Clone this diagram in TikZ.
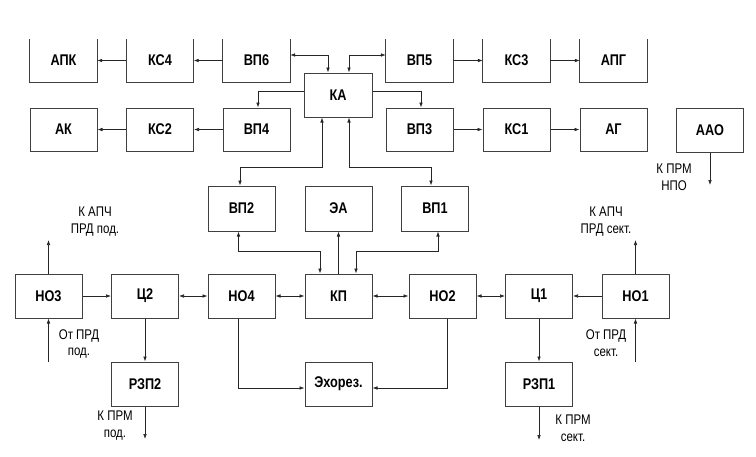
\documentclass[tikz,border=0pt]{standalone}
\usepackage{fontspec}
\setmainfont[FakeStretch=0.82]{Liberation Sans}
\usetikzlibrary{arrows.meta}
\tikzset{
  blk/.style={draw=black!75, line width=1pt, minimum width=67pt, minimum height=44pt, inner sep=0pt, font=\bfseries\fontsize{15.5}{17}\selectfont},
  openblk/.style={draw=none, minimum width=67pt, minimum height=43pt, inner sep=0pt, font=\bfseries\fontsize{15.5}{17}\selectfont},
  side/.style={draw=black!75, line width=1pt},
  conn/.style={draw=black!85, line width=0.6pt},
  arr/.style={conn, -{Latex[length=5pt,width=3.6pt]}},
  dbl/.style={conn, {Latex[length=5pt,width=3.6pt]}-{Latex[length=5pt,width=3.6pt]}},
  lbl/.style={align=center, inner sep=0pt, font=\fontsize{14}{17}\selectfont}
}
\begin{document}
\begin{tikzpicture}[x=1pt,y=-1pt]
\useasboundingbox (0,0) rectangle (756,456);
% top row (open top)
\node[openblk] (apk) at (63.5,60.5) {АПК};
\node[openblk] (ks4) at (160,60.5) {КС4};
\node[openblk] (vp6) at (256.5,60.5) {ВП6};
\node[openblk] (vp5) at (419.5,60.5) {ВП5};
\node[openblk] (ks3) at (516.5,60.5) {КС3};
\node[openblk] (apg) at (613.5,60.5) {АПГ};
\foreach \n in {apk,ks4,vp6,vp5,ks3,apg}
  \draw[side] (\n.north west) -- (\n.south west) -- (\n.south east) -- (\n.north east);
% KA
\node[blk, minimum width=68pt] (ka) at (338,95) {КА};
% second row
\node[blk, minimum height=43pt] (ak) at (63.5,129.5) {АК};
\node[blk, minimum height=43pt] (ks2) at (160,129.5) {КС2};
\node[blk, minimum height=43pt] (vp4) at (256.5,129.5) {ВП4};
\node[blk, minimum height=43pt] (vp3) at (419.5,129.5) {ВП3};
\node[blk, minimum height=43pt] (ks1) at (516.5,129.5) {КС1};
\node[blk, minimum height=43pt] (ag) at (613.5,129.5) {АГ};
\node[blk] (aao) at (710,130) {ААО};
% third row
\node[blk, minimum height=45pt] (vp2) at (241.5,208.5) {ВП2};
\node[blk, minimum height=45pt] (ea) at (338.5,208.5) {ЭА};
\node[blk, minimum height=45pt] (vp1) at (435,208.5) {ВП1};
% middle row
\node[blk] (no3) at (48.5,296) {НО3};
\node[blk] (c2) at (145,296) {Ц2};
\node[blk] (no4) at (241.5,296) {НО4};
\node[blk] (kp) at (338.5,296) {КП};
\node[blk] (no2) at (442.5,296) {НО2};
\node[blk] (c1) at (539,296) {Ц1};
\node[blk] (no1) at (635.5,296) {НО1};
% bottom row
\node[blk] (rzp2) at (145,384) {РЗП2};
\node[blk] (echo) at (338.5,384) {Эхорез.};
\node[blk] (rzp1) at (539,384) {РЗП1};
% free ends
\coordinate (no3up) at (48.5,240);
\coordinate (no3in) at (48.5,362);
\coordinate (no1up) at (635.5,240);
\coordinate (no1in) at (635.5,362);
\coordinate (rzp2out) at (145,439);
\coordinate (rzp1out) at (539,440);
\coordinate (aaoout) at (710,185);
% top chain
\draw[arr] (vp6) -- (ks4);
\draw[arr] (ks4) -- (apk);
\draw[arr] (vp5) -- (ks3);
\draw[arr] (ks3) -- (apg);
\draw[arr] (vp4) -- (ks2);
\draw[arr] (ks2) -- (ak);
\draw[arr] (vp3) -- (ks1);
\draw[arr] (ks1) -- (ag);
% KA links
\draw[dbl] ([yshift=5.5pt]vp6.east) -| ([xshift=-10pt]ka.north);
\draw[dbl] ([xshift=11pt]ka.north) |- ([yshift=5.5pt]vp5.west);
\draw[arr] ([yshift=4pt]ka.west) -| ([xshift=1.5pt]vp4.north);
\draw[arr] ([yshift=4pt]ka.east) -| ([xshift=1.5pt]vp3.north);
\draw[dbl] ([xshift=-16pt]ka.south) -- ++(0,50) -| ([xshift=-1.5pt]vp2.north);
\draw[dbl] ([xshift=11pt]ka.south) -- ++(0,50) -| ([xshift=-4pt]vp1.north);
% KP links
\draw[dbl] ([xshift=-3pt]vp2.south) -- ++(0,20) -| ([xshift=-18.5pt]kp.north);
\draw[arr] (kp.north) -- (ea.south);
\draw[dbl] ([xshift=3pt]vp1.south) -- ++(0,20) -| ([xshift=17.5pt]kp.north);
% middle row
\draw[arr] (no3) -- (c2);
\draw[dbl] (c2) -- (no4);
\draw[dbl] (no4) -- (kp);
\draw[dbl] (kp) -- (no2);
\draw[dbl] (no2) -- (c1);
\draw[arr] (no1) -- (c1);
\draw[arr] (no3.north) -- (no3up);
\draw[arr] (no3in) -- (no3.south);
\draw[arr] (no1.north) -- (no1up);
\draw[arr] (no1in) -- (no1.south);
% bottom
\draw[arr] (c2) -- (rzp2);
\draw[arr] (rzp2) -- (rzp2out);
\draw[arr] (c1) -- (rzp1);
\draw[arr] (rzp1) -- (rzp1out);
\draw[arr] ([xshift=-3.5pt]no4.south) |- ([yshift=-4pt]echo.west);
\draw[arr] ([xshift=4.5pt]no2.south) |- ([yshift=-4pt]echo.east);
\draw[arr] (aao) -- (aaoout);
% labels
\node[lbl] at (95,221.5) {К АПЧ\\ПРД под.};
\node[lbl] at (606,221.5) {К АПЧ\\ПРД сект.};
\node[lbl] at (79,344) {От ПРД\\под.};
\node[lbl] at (606,343.5) {От ПРД\\сект.};
\node[lbl] at (115,426) {К ПРМ\\под.};
\node[lbl] at (573,428.5) {К ПРМ\\сект.};
\node[lbl] at (674,177) {К ПРМ\\НПО};
\end{tikzpicture}
\end{document}
